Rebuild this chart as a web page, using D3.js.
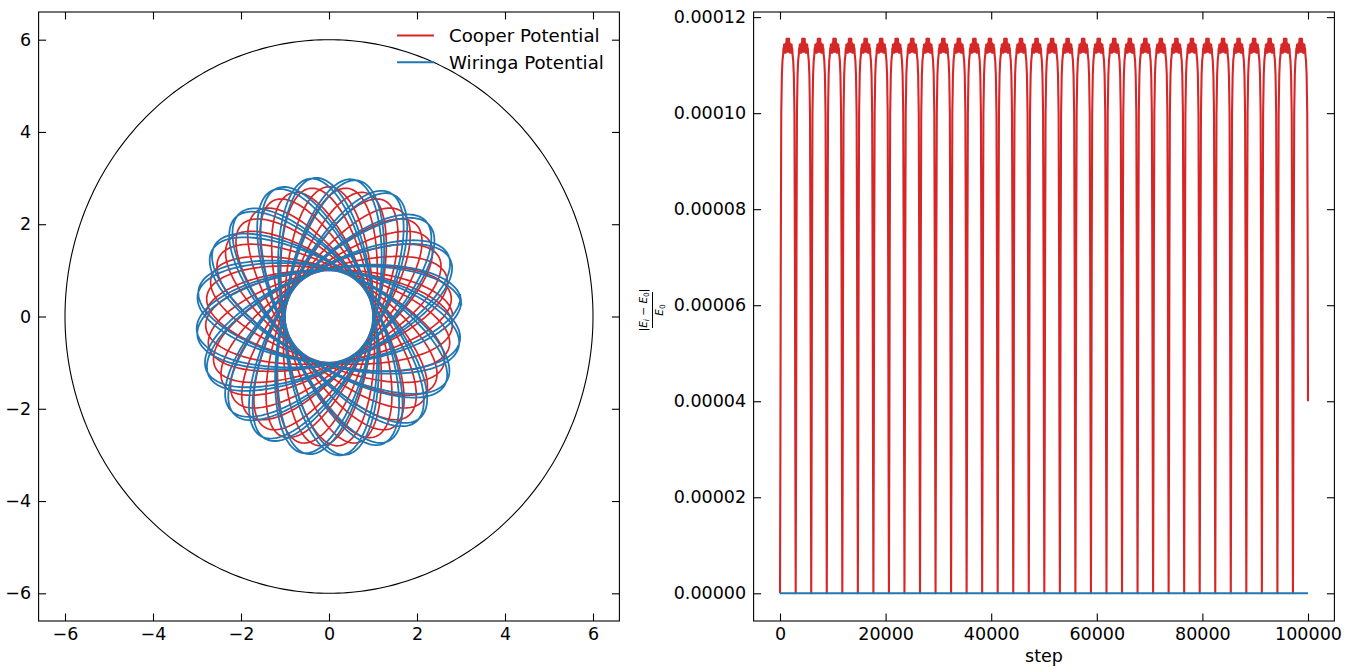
<!DOCTYPE html>
<html><head><meta charset="utf-8">
<script src="https://cdn.jsdelivr.net/npm/d3@7"></script>
<style>
body{margin:0;background:#fff}
svg{display:block}
text{font-family:"DejaVu Sans",sans-serif;fill:#000}
</style>
</head><body>
<svg id="chart" width="1356" height="667"></svg>
<script>
// ---------- data ----------
const seriesNames = ["Cooper Potential", "Wiringa Potential"];
const seriesColors = ["#d62728", "#1f77b4"];

// orbit panel: rosette
const orbitMinRadius = [1.0, 1.0];
const orbitMaxRadius = [2.81, 3.02];
const orbitApsidalAngleDeg = [184.5, 198.12];   // angle swept between successive apocentres
const orbitRadialPeriods = [40, 40];
const orbitFirstApoDeg = [0, 4.5];
const boundaryRadius = 6;
const orbitTicks = [-6, -4, -2, 0, 2, 4, 6];

// energy panel
const energyDipSteps = [0, 2973, 5916, 8859, 11802, 14745, 17688, 20631, 23574, 26517,
  29460, 32403, 35346, 38289, 41232, 44175, 47118, 50061, 53004, 55947, 58890, 61833,
  64776, 67719, 70662, 73605, 76548, 79491, 82434, 85377, 88320, 91263, 94206, 97149, 100092];
// one period of |Ei-E0|/E0 between two dips (fraction of period, value)
const energyProfileFraction = [0, 0.025, 0.05, 0.08, 0.12, 0.16, 0.2,
  0.22, 0.24, 0.26, 0.28, 0.30, 0.32, 0.34, 0.36, 0.38, 0.40, 0.42, 0.44, 0.46, 0.48, 0.50,
  0.52, 0.54, 0.56, 0.58, 0.60, 0.62, 0.64, 0.66, 0.68, 0.70, 0.72, 0.74, 0.76, 0.78,
  0.8, 0.84, 0.88, 0.92, 0.95, 0.975, 1];
const energyProfileValue = [0, 0.00003, 0.00007, 0.0001, 0.000108, 0.000111, 0.0001122,
  0.0001135, 0.0001126, 0.0001143, 0.0001126, 0.0001143, 0.0001126, 0.0001143, 0.0001126, 0.0001146, 0.0001128, 0.0001155, 0.0001128, 0.0001155, 0.0001128, 0.0001155,
  0.0001128, 0.0001155, 0.0001128, 0.0001155, 0.0001128, 0.0001146, 0.0001126, 0.0001143, 0.0001126, 0.0001143, 0.0001126, 0.0001143, 0.0001126, 0.0001135,
  0.0001122, 0.000111, 0.000108, 0.0001, 0.00007, 0.00003, 0];
const lastStep = 100000;
const wiringaEnergySteps = [0, 100000];
const wiringaEnergyValues = [0, 0];
const stepTicks = [0, 20000, 40000, 60000, 80000, 100000];
const errorTicks = [0, 0.00002, 0.00004, 0.00006, 0.00008, 0.0001, 0.00012];
const errorTickLabels = ["0.00000", "0.00002", "0.00004", "0.00006", "0.00008", "0.00010", "0.00012"];

// ---------- drawing ----------
const svg = d3.select("#chart");
const FS = 17.5, LFS = 18.2, TICK = 7.5;

function frame(g, x, y) {
  const [x0, x1] = x.range(), [y0, y1] = y.range();
  g.append("rect").attr("x", x0).attr("y", y1).attr("width", x1 - x0).attr("height", y0 - y1)
    .attr("fill", "none").attr("stroke", "#000").attr("stroke-width", 1.1);
}
function axes(g, x, y, xt, yt, xfmt, yfmt) {
  const [x0, x1] = x.range(), [y0, y1] = y.range();
  const style = s => { s.select(".domain").remove(); s.selectAll("line").attr("stroke", "#000").attr("stroke-width", 1.1);
    s.selectAll("text").attr("font-size", FS).attr("font-family", "DejaVu Sans").attr("fill", "#000"); };
  g.append("g").attr("transform", `translate(0,${y0})`)
    .call(d3.axisBottom(x).tickValues(xt).tickSize(-TICK).tickPadding(6.6).tickFormat(xfmt)).call(style);
  g.append("g").attr("transform", `translate(0,${y1})`)
    .call(d3.axisTop(x).tickValues(xt).tickSize(-TICK).tickFormat("")).call(style);
  g.append("g").attr("transform", `translate(${x0},0)`)
    .call(d3.axisLeft(y).tickValues(yt).tickSize(-TICK).tickPadding(7.5).tickFormat(yfmt)).call(style);
  g.append("g").attr("transform", `translate(${x1},0)`)
    .call(d3.axisRight(y).tickValues(yt).tickSize(-TICK).tickFormat("")).call(style);
}

// ---- left panel ----
const xL = d3.scaleLinear().domain([-6.6, 6.6]).range([38.6, 619.4]);
const yL = d3.scaleLinear().domain([-6.6, 6.6]).range([621, 12]);
const gL = svg.append("g");

const circlePts = d3.range(0, 361).map(a => [boundaryRadius * Math.cos(a * Math.PI / 180), boundaryRadius * Math.sin(a * Math.PI / 180)]);
const lineL = d3.line().x(d => xL(d[0])).y(d => yL(d[1]));
gL.append("path").attr("d", lineL(circlePts)).attr("fill", "none").attr("stroke", "#000").attr("stroke-width", 1.1);

seriesNames.forEach((name, s) => {
  const a = orbitMaxRadius[s], b = orbitMinRadius[s];
  const stepDeg = orbitApsidalAngleDeg[s];
  const k = 180 / stepDeg;
  const total = orbitRadialPeriods[s] * stepDeg;
  const n = orbitRadialPeriods[s] * 260;
  const pts = d3.range(n + 1).map(i => {
    const t = total * i / n;
    const psi = k * t * Math.PI / 180;
    const r = 1 / Math.sqrt(Math.cos(psi) ** 2 / (a * a) + Math.sin(psi) ** 2 / (b * b));
    const phi = (orbitFirstApoDeg[s] + t) * Math.PI / 180;
    return [r * Math.cos(phi), r * Math.sin(phi)];
  });
  gL.append("path").attr("d", lineL(pts)).attr("fill", "none")
    .attr("stroke", seriesColors[s]).attr("stroke-width", s === 0 ? 1.7 : 1.8).attr("stroke-linejoin", "round");
});
frame(gL, xL, yL);
axes(gL, xL, yL, orbitTicks, orbitTicks, d3.format("d"), d3.format("d"));

// legend
const legY = [35.5, 62.3];
seriesNames.forEach((name, s) => {
  gL.append("line").attr("x1", 397).attr("x2", 434).attr("y1", legY[s]).attr("y2", legY[s])
    .attr("stroke", seriesColors[s]).attr("stroke-width", 1.9);
  gL.append("text").attr("x", 449).attr("y", legY[s] + 6.9).attr("font-size", LFS).text(name);
});

// ---- right panel ----
const xR = d3.scaleLinear().domain([-5000, 105000]).range([753.6, 1334.4]);
const yR = d3.scaleLinear().domain([-5.77e-6, 0.00012107]).range([621, 12]);
const gR = svg.append("g");
const lineR = d3.line().x(d => xR(d[0])).y(d => yR(d[1]));

const cooperEnergy = [];
for (let i = 0; i < energyDipSteps.length - 1; i++) {
  const d0 = energyDipSteps[i], d1 = energyDipSteps[i + 1];
  let stop = false;
  for (let j = (i === 0 ? 0 : 1); j < energyProfileFraction.length; j++) {
    const st = d0 + energyProfileFraction[j] * (d1 - d0);
    if (st <= lastStep) cooperEnergy.push([st, energyProfileValue[j]]);
    else {
      const prev = cooperEnergy[cooperEnergy.length - 1];
      const w = (lastStep - prev[0]) / (st - prev[0]);
      cooperEnergy.push([lastStep, prev[1] + w * (energyProfileValue[j] - prev[1])]);
      stop = true;
      break;
    }
  }
  if (stop) break;
}
gR.append("path").attr("d", lineR(cooperEnergy)).attr("fill", "none")
  .attr("stroke", seriesColors[0]).attr("stroke-width", 2.1).attr("stroke-linejoin", "round");
gR.append("path").attr("d", lineR(wiringaEnergySteps.map((st, i) => [st, wiringaEnergyValues[i]])))
  .attr("fill", "none").attr("stroke", seriesColors[1]).attr("stroke-width", 2);
frame(gR, xR, yR);
axes(gR, xR, yR, stepTicks, errorTicks, d3.format("d"), (d, i) => errorTickLabels[i]);

gR.append("text").attr("x", (xR.range()[0] + xR.range()[1]) / 2).attr("y", 662)
  .attr("text-anchor", "middle").attr("font-size", FS).text("step");

// y label: fraction |E_i - E_0| / E_0
const yl = gR.append("g").attr("transform", "translate(0,310) rotate(-90)");
const fs2 = 10.5, fsSub = 7.5;
const num = yl.append("text").attr("x", 0).attr("y", 647).attr("text-anchor", "middle").attr("font-size", fs2);
num.append("tspan").text("|");
num.append("tspan").attr("font-style", "italic").text("E");
num.append("tspan").attr("font-style", "italic").attr("font-size", fsSub).attr("dy", 2).text("i");
num.append("tspan").attr("dy", -2).text(" \u2212 ");
num.append("tspan").attr("font-style", "italic").text("E");
num.append("tspan").attr("font-size", fsSub).attr("dy", 2).text("0");
num.append("tspan").attr("dy", -2).text("|");
yl.append("line").attr("x1", -18).attr("x2", 18).attr("y1", 652.5).attr("y2", 652.5)
  .attr("stroke", "#000").attr("stroke-width", 1);
const den = yl.append("text").attr("x", 0).attr("y", 662.5).attr("text-anchor", "middle").attr("font-size", fs2);
den.append("tspan").attr("font-style", "italic").text("E");
den.append("tspan").attr("font-size", fsSub).attr("dy", 2).text("0");
</script>
</body></html>
